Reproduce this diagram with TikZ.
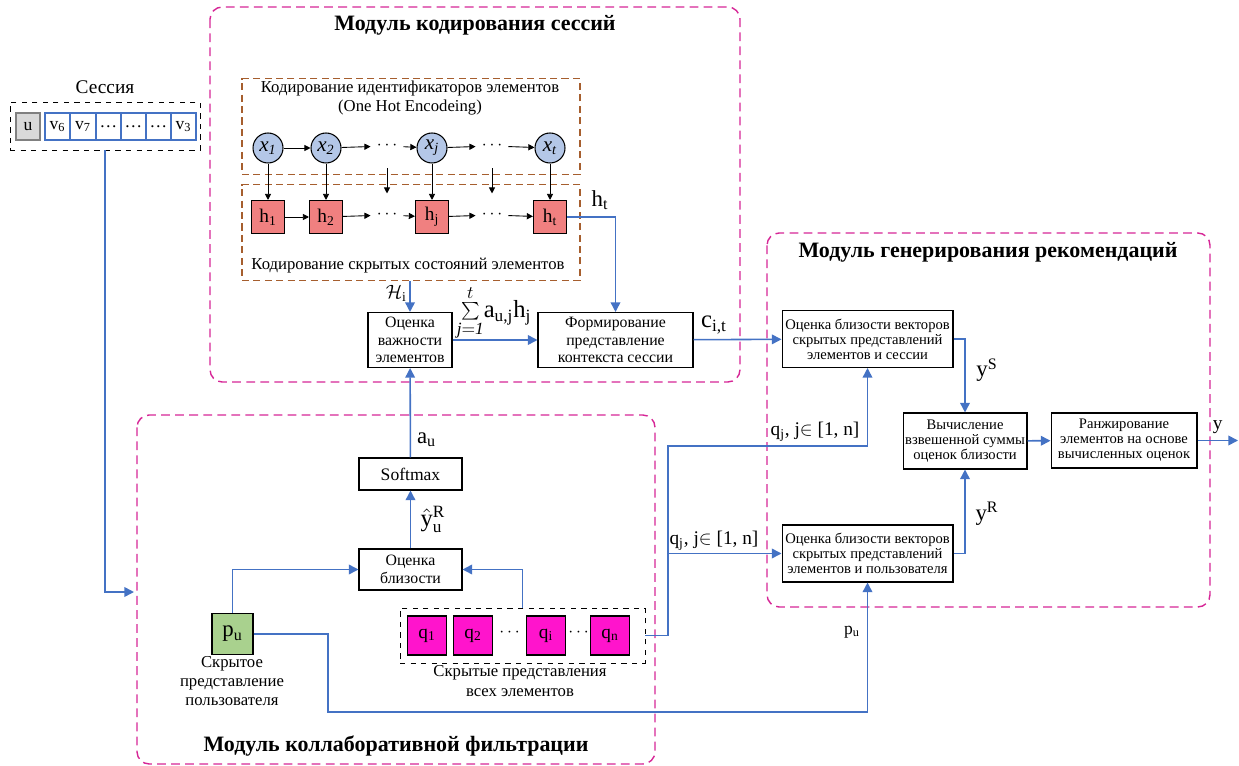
\documentclass[tikz,border=0pt]{standalone}
\usepackage{fontspec}
\setmainfont{Liberation Serif}
\usetikzlibrary{arrows.meta}

\begin{document}
\begin{tikzpicture}
[x=0.02cm,y=-0.02cm,
% Styles
module/.style={draw=modcolor,dash pattern=on 5pt off 3pt,rounded corners=7pt,line width=0.8pt},
group/.style={draw=groupcolor,dash pattern=on 4pt off 2.5pt,line width=0.7pt,minimum width=6.76cm,minimum height=1.92cm},
block/.style={draw,fill=white,align=center,inner sep=1pt,line width=0.6pt,font=\fontsize{9}{10}\selectfont},
small block/.style={block,font=\fontsize{8.3}{8.6}\selectfont},
state/.style={draw,circle,fill=statecolor,minimum size=0.6cm,inner sep=0pt,line width=0.6pt,font=\fontsize{12}{12}\selectfont},
hidden/.style={draw,fill=hcolor,minimum size=0.66cm,inner sep=0pt,line width=0.6pt,font=\fontsize{11}{11}\selectfont},
item/.style={draw,fill=qcolor,minimum size=0.78cm,inner sep=0pt,line width=0.6pt,font=\fontsize{11}{11}\selectfont},
cell/.style={draw=flowcolor,minimum width=0.5cm,minimum height=0.54cm,inner sep=0pt,line width=0.6pt,font=\fontsize{10}{10}\selectfont},
seq/.style={-{Triangle[length=3.5pt,width=3.5pt]},line width=0.5pt},
flow/.style={draw=flowcolor,line width=0.9pt,-{Triangle[length=5.5pt,width=5.5pt]}},
title/.style={font=\bfseries\fontsize{12.5}{14}\selectfont},
tag/.style={font=\fontsize{11}{12}\selectfont},
big tag/.style={font=\fontsize{13}{14}\selectfont},
note/.style={align=center,font=\fontsize{9.5}{11}\selectfont}]
% Colors
\definecolor{modcolor}{RGB}{214,38,150}
\definecolor{groupcolor}{RGB}{166,94,46}
\definecolor{flowcolor}{RGB}{68,114,196}
\definecolor{statecolor}{RGB}{180,199,231}
\definecolor{hcolor}{RGB}{240,128,128}
\definecolor{qcolor}{RGB}{255,20,204}
\definecolor{pcolor}{RGB}{169,209,142}
\definecolor{ucolor}{RGB}{217,217,217}
\useasboundingbox (0,0) rectangle (1239,766);
% Modules
\draw[module] (210,7) rectangle (740,382);
\draw[module] (137,415) rectangle (655,764);
\draw[module] (767,233) rectangle (1210,607);
\node[title] (enctitle) at (475,25) {Модуль кодирования сессий};
\node[title] (cftitle) at (396,746) {Модуль коллаборативной фильтрации};
\node[title] (rectitle) at (988,252) {Модуль генерирования рекомендаций};
% Session
\node[font=\fontsize{11}{12}\selectfont] (sesstitle) at (105,87) {Сессия};
\node[draw,dashed,minimum width=3.8cm,minimum height=0.96cm] (sess) at (105,126) {};
\node[cell,draw=gray,fill=ucolor,minimum width=0.48cm] (u) at (28,126.5) {u};
\foreach \cx/\ct [count=\i] in {57.5/v\textsubscript{6},83/v\textsubscript{7},108.5/\dots,133.5/\dots,158.5/\dots,183.5/v\textsubscript{3}}
  \node[cell] (v\i) at (\cx,126.5) {\ct};
% Encoding groups
\node[group] (enc) at (411,126.5) {};
\node[note] (enctext) at (410,98) {Кодирование идентификаторов элементов\\(One Hot Encodeing)};
\node[group] (hid) at (411,232.5) {};
\node[note] (hidtext) at (408,266) {Кодирование скрытых состояний элементов};
\node[state] (x1) at (268,148) {\textit{x}\textsubscript{\textit{1}}};
\node[state] (x2) at (326,148) {\textit{x}\textsubscript{\textit{2}}};
\node (xd1) at (387,146) {$\cdots$};
\node[state] (xj) at (432,148) {\textit{x}\textsubscript{\textit{j}}};
\node (xd2) at (492,146) {$\cdots$};
\node[state] (xt) at (550,148) {\textit{x}\textsubscript{\textit{t}}};
\node[hidden] (h1) at (268,217) {h\textsubscript{1}};
\node[hidden] (h2) at (326,217) {h\textsubscript{2}};
\node (hd1) at (387,215) {$\cdots$};
\node[hidden] (hj) at (432,217) {h\textsubscript{j}};
\node (hd2) at (492,215) {$\cdots$};
\node[hidden] (ht) at (550,217) {h\textsubscript{t}};
\draw[seq] (x1) -- (x2);
\draw[seq] (x2) -- (xd1);
\draw[seq] (xd1) -- (xj);
\draw[seq] (xj) -- (xd2);
\draw[seq] (xd2) -- (xt);
\draw[seq] (h1) -- (h2);
\draw[seq] (h2) -- (hd1);
\draw[seq] (hd1) -- (hj);
\draw[seq] (hj) -- (hd2);
\draw[seq] (hd2) -- (ht);
\foreach \a/\b in {x1/h1,x2/h2,xj/hj,xt/ht}
  \draw[seq] (\a) -- (\b);
\draw[seq,shorten <=7pt,shorten >=6.5pt] (xd1) -- (hd1);
\draw[seq,shorten <=7pt,shorten >=6.5pt] (xd2) -- (hd2);
% Attention and context
\node[block,minimum width=1.68cm,minimum height=1.1cm] (imp) at (410,340) {Оценка\\важности\\элементов};
\node[block,minimum width=3.1cm,minimum height=1.1cm] (form) at (615.5,340) {Формирование\\представление\\контекста сессии};
\node[big tag] (htlbl) at (600,200) {h\textsubscript{t}};
\draw[flow] (hid.south -| imp.north) -- node[left,tag,pos=0.4,xshift=2pt] {$\mathcal{H}_{\mathrm{i}}$} (imp.north);
\draw[flow] (ht.east) -| (form.north);
\draw[flow] (imp) -- (form);
\node[font=\fontsize{14}{15}\selectfont,inner sep=0pt] (sumlbl) at (494,313) {$\sum\limits_{\mathit{j=1}}^{t}$a\textsubscript{u,j}h\textsubscript{j}};
% Collaborative filtering
\node[block,minimum width=2.06cm,minimum height=0.64cm,font=\fontsize{10}{11}\selectfont] (soft) at (410.5,474) {Softmax};
\node[block,minimum width=2.06cm,minimum height=0.82cm] (sim) at (410.5,569.5) {Оценка\\близости};
\node[draw,fill=pcolor,minimum size=0.82cm,line width=0.6pt,font=\fontsize{13}{13}\selectfont] (pu) at (232.5,634) {p\textsubscript{u}};
\node[note] (putext) at (232,681) {Скрытое\\представление\\пользователя};
\node[draw,dashed,minimum width=4.9cm,minimum height=1.1cm] (qbox) at (522.5,635.5) {};
\node[item] (q1) at (427,635.5) {q\textsubscript{1}};
\node[item] (q2) at (473,635.5) {q\textsubscript{2}};
\node[inner sep=0pt] (qd1) at (509.5,633) {$\cdots$};
\node[item] (qi) at (546,635.5) {q\textsubscript{i}};
\node[inner sep=0pt] (qd2) at (578.5,633) {$\cdots$};
\node[item] (qn) at (610,635.5) {q\textsubscript{n}};
\node[note] (qtext) at (520,681) {Скрытые представления\\всех элементов};
\draw[flow] (sim) -- node[right=2pt,font=\fontsize{14}{14}\selectfont] {$\hat{\mathrm{y}}^{\mathrm{R}}_{\mathrm{u}}$} (soft);
\draw[flow] (soft) -- node[right,big tag,pos=0.2] {a\textsubscript{u}} (imp);
\draw[flow] (pu.north) |- (sim.west);
\draw[flow] (qbox.north) |- (sim.east);
\coordinate (sessin) at (134,592);
\draw[flow] (sess.south) |- (sessin);
% Recommendation
\node[small block,minimum width=3.42cm,minimum height=1.14cm] (simS) at (867.5,339) {Оценка близости векторов\\скрытых представлений\\элементов и сессии};
\node[small block,minimum width=2.48cm,minimum height=1.12cm] (wsum) at (965,441) {Вычисление\\взвешенной суммы\\оценок близости};
\node[small block,minimum width=2.92cm,minimum height=1.1cm] (rank) at (1124,440.5) {Ранжирование\\элементов на основе\\вычисленных оценок};
\node[small block,minimum width=3.42cm,minimum height=1.14cm] (simR) at (867.5,553.5) {Оценка близости векторов\\скрытых представлений\\элементов и пользователя};
\draw[flow] (form) -- (simS);
\node[font=\fontsize{14}{14}\selectfont] (clbl) at (714,325) {c\textsubscript{i,t}};
\draw[flow] (simS.east) -| (wsum.north);
\draw[flow] (simR.east) -| (wsum.south);
\node[big tag] (ySlbl) at (987,370) {y\textsuperscript{S}};
\node[big tag] (yRlbl) at (987,514) {y\textsuperscript{R}};
\draw[flow] (wsum) -- (rank);
\coordinate (yout) at (1238,440.5);
\draw[flow] (rank) -- node[above,tag] {y} (yout);
\coordinate (pubend) at (328,712);
\draw[flow] (pu.east) -| (pubend) -| (simR.south);
\node[tag,font=\fontsize{10}{11}\selectfont] (pulbl) at (852,632) {p\textsubscript{u}};
\coordinate (qbend) at (668,446);
\draw[flow] (qbox.east) -| (qbend) -| (simS.south);
\draw[flow] (qbend |- simR.west) -- (simR.west);
\node[tag] (qlblA) at (815,432) {q\textsubscript{j}, j$\in$ [1, n]};
\node[tag] (qlblB) at (714,541) {q\textsubscript{j}, j$\in$ [1, n]};
\end{tikzpicture}
\end{document}
